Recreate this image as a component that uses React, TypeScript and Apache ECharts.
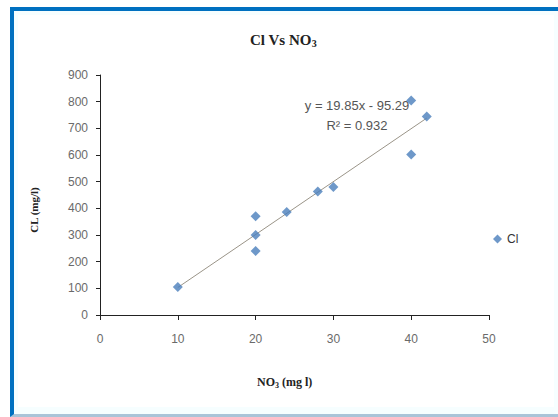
import React, { useEffect, useRef } from "react";
import * as echarts from "echarts";

const seriesName = "Cl";
const no3Values = [10, 20, 20, 20, 24, 28, 30, 40, 40, 42];
const clValues = [105, 240, 300, 370, 386, 463, 480, 602, 804, 744];
const trendSlope = 19.85;
const trendIntercept = -95.29;
const trendX = [10, 42];
const xTicks = { min: 0, max: 50, interval: 10 };
const yTicks = { min: 0, max: 900, interval: 100 };

export default function App() {
  const ref = useRef<HTMLDivElement>(null);
  useEffect(() => {
    if (!ref.current) return;
    const chart = echarts.init(ref.current, null, { renderer: "svg" });
    const trendData = trendX.map((x) => [x, trendSlope * x + trendIntercept]);
    const serif = "'Liberation Serif', 'Times New Roman', serif";
    const sans = "'Liberation Sans', Arial, sans-serif";
    chart.setOption({
      animation: false,
      backgroundColor: "transparent",
      grid: { left: 100, right: 69, top: 75, bottom: 102 },
      legend: {
        data: [{ name: seriesName, icon: "diamond" }],
        left: 488,
        top: 228,
        itemWidth: 9,
        itemHeight: 9,
        itemGap: 4,
        textStyle: { fontFamily: sans, fontSize: 12, color: "#333" },
      },
      xAxis: {
        type: "value",
        min: xTicks.min,
        max: xTicks.max,
        interval: xTicks.interval,
        splitLine: { show: false },
        axisLine: { lineStyle: { color: "#222", width: 1 } },
        axisTick: { show: true, inside: false, length: 5, lineStyle: { color: "#222" } },
        axisLabel: { color: "#6a6a6a", fontFamily: sans, fontSize: 12, margin: 18 },
      },
      yAxis: {
        type: "value",
        min: yTicks.min,
        max: yTicks.max,
        interval: yTicks.interval,
        splitLine: { show: false },
        axisLine: { show: true, lineStyle: { color: "#222", width: 1 } },
        axisTick: { show: true, inside: false, length: 4, lineStyle: { color: "#222" } },
        axisLabel: { color: "#6a6a6a", fontFamily: sans, fontSize: 12, margin: 12 },
      },
      series: [
        {
          name: seriesName,
          type: "scatter",
          symbol: "diamond",
          symbolSize: 10,
          itemStyle: { color: "#4A7EBB" },
          data: no3Values.map((x, i) => [x, clValues[i]]),
          z: 3,
        },
        {
          name: "Linear (Cl)",
          type: "line",
          data: trendData,
          symbol: "none",
          lineStyle: { color: "#9A9488", width: 1 },
          z: 2,
        },
      ],
      graphic: [
        {
          type: "text",
          left: 250,
          top: 32,
          style: {
            text: "{a|Cl Vs NO}{s|3}",
            rich: {
              a: { fontFamily: serif, fontWeight: "bold", fontSize: 15, fill: "#222" },
              s: { fontFamily: serif, fontWeight: "bold", fontSize: 10, fill: "#222", padding: [8, 0, 0, 0] },
            },
          },
        },
        {
          type: "text",
          x: 34,
          y: 210,
          rotation: Math.PI / 2,
          style: {
            text: "CL (mg/l)",
            fontFamily: serif,
            fontWeight: "bold",
            fontSize: 11,
            fill: "#222",
            align: "center",
            verticalAlign: "middle",
          },
        },
        {
          type: "text",
          left: 257,
          top: 376,
          style: {
            text: "{a|NO}{s|3}{a| (mg l)}",
            rich: {
              a: { fontFamily: serif, fontWeight: "bold", fontSize: 12, fill: "#222" },
              s: { fontFamily: serif, fontWeight: "bold", fontSize: 8, fill: "#222", padding: [7, 0, 0, 0] },
            },
          },
        },
        {
          type: "text",
          x: 357,
          y: 105,
          style: {
            text: "y = 19.85x - 95.29",
            fontFamily: sans,
            fontSize: 13,
            fill: "#555",
            align: "center",
            verticalAlign: "middle",
          },
        },
        {
          type: "text",
          x: 357,
          y: 125,
          style: {
            text: "R² = 0.932",
            fontFamily: sans,
            fontSize: 13,
            fill: "#555",
            align: "center",
            verticalAlign: "middle",
          },
        },
      ],
    });
    return () => chart.dispose();
  }, []);

  return (
    <div style={{ position: "fixed", left: 0, top: 0, width: 558, height: 417, background: "#fff" }}>
      <div
        style={{
          position: "absolute",
          left: 10,
          top: 7,
          width: 548,
          height: 403,
          borderLeft: "4px solid #0070C0",
          borderTop: "4px solid #0070C0",
          borderBottom: "3px solid #A9C4D8",
          background: "#F6FEFF",
          boxSizing: "content-box",
        }}
      />
      <div
        style={{
          position: "absolute",
          left: 18,
          top: 15,
          width: 536,
          height: 392,
          background: "#fff",
        }}
      />
      <div ref={ref} style={{ position: "absolute", left: 0, top: 0, width: 558, height: 417 }} />
    </div>
  );
}
